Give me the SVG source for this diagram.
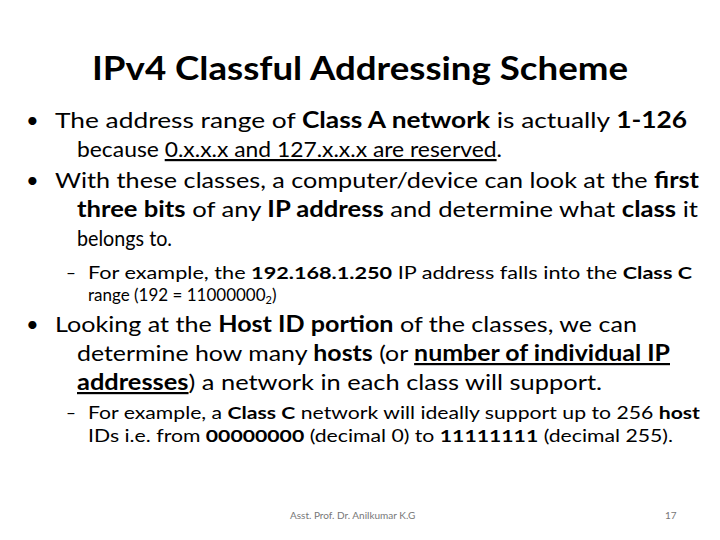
<svg xmlns="http://www.w3.org/2000/svg" width="720" height="540" viewBox="0 0 720 540">
<style>
text{font-family:Lato,"Liberation Sans",sans-serif;fill:#000}
.t{font-size:32px;font-weight:bold}
.b{font-size:22px}
.s{font-size:17px}
.k{font-weight:bold}
.u{text-decoration:underline}
.f{font-size:10px;fill:#777}
</style>
<rect width="720" height="540" fill="#fff"/>
<text class="t" x="360" y="80" text-anchor="middle" textLength="536" lengthAdjust="spacingAndGlyphs">IPv4 Classful Addressing Scheme</text>
<g class="b">
<text x="26" y="128">•</text>
<text x="55" y="128" textLength="632" lengthAdjust="spacingAndGlyphs">The address range of <tspan class="k">Class A network</tspan> is actually <tspan class="k">1-126</tspan></text>
<text x="77" y="157" textLength="425" lengthAdjust="spacingAndGlyphs">because <tspan class="u">0.x.x.x and 127.x.x.x are reserved</tspan>.</text>
<text x="26" y="188">•</text>
<text x="55" y="188" textLength="644" lengthAdjust="spacingAndGlyphs">With these classes, a computer/device can look at the <tspan class="k">first</tspan></text>
<text x="77" y="217" textLength="621" lengthAdjust="spacingAndGlyphs"><tspan class="k">three bits</tspan> of any <tspan class="k">IP address</tspan> and determine what <tspan class="k">class</tspan> it</text>
<text x="77" y="246" textLength="95" lengthAdjust="spacingAndGlyphs">belongs to.</text>
<text x="26" y="332">•</text>
<text x="55" y="332" textLength="582" lengthAdjust="spacingAndGlyphs">Looking at the <tspan class="k">Host ID portion</tspan> of the classes, we can</text>
<text x="77" y="361" textLength="593" lengthAdjust="spacingAndGlyphs">determine how many <tspan class="k">hosts</tspan> (or <tspan class="k u">number of individual IP</tspan></text>
<text x="77" y="390" textLength="525" lengthAdjust="spacingAndGlyphs"><tspan class="k u">addresses</tspan>) a network in each class will support.</text>
</g>
<g class="s">
<text x="66" y="279">–</text>
<text x="88" y="279" textLength="604" lengthAdjust="spacingAndGlyphs">For example, the <tspan class="k">192.168.1.250</tspan> IP address falls into the <tspan class="k">Class C</tspan></text>
<text x="88" y="301">range (192 = 11000000<tspan font-size="11" dy="3">2</tspan><tspan dy="-3">)</tspan></text>
<text x="66" y="419">–</text>
<text x="88" y="419" textLength="612" lengthAdjust="spacingAndGlyphs">For example, a <tspan class="k">Class C</tspan> network will ideally support up to 256 <tspan class="k">host</tspan></text>
<text x="88" y="442" textLength="585" lengthAdjust="spacingAndGlyphs">IDs i.e. from <tspan class="k">00000000</tspan> (decimal 0) to <tspan class="k">11111111</tspan> (decimal 255).</text>
</g>
<text class="f" x="290" y="519">Asst. Prof. Dr. Anilkumar K.G</text>
<text class="f" x="665" y="519" font-size="8">17</text>
</svg>
